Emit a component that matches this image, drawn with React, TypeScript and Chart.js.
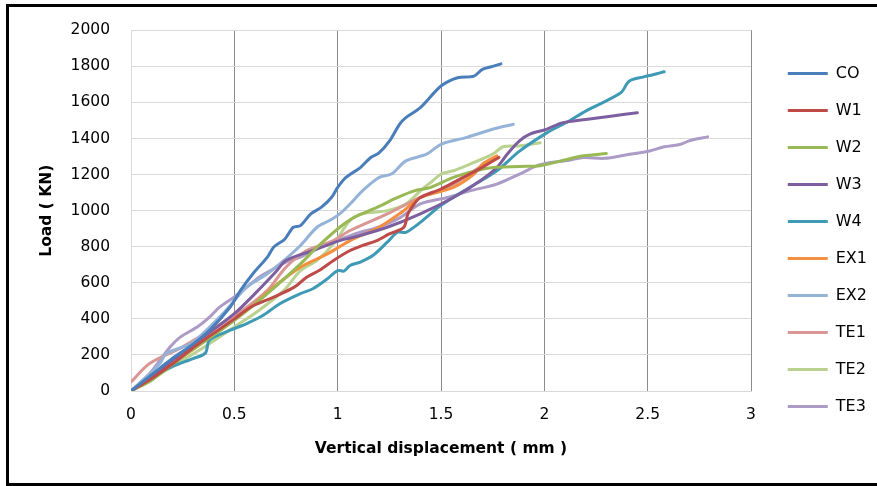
import React, { useEffect, useRef } from "react";
import { Chart, registerables } from "chart.js";

Chart.register(...registerables);

const FONT = "'DejaVu Sans', sans-serif";

const seriesNames = ["CO", "W1", "W2", "W3", "W4", "EX1", "EX2", "TE1", "TE2", "TE3"];

const coX = [0, 0.1, 0.2, 0.3, 0.38, 0.48, 0.53, 0.59, 0.66, 0.69, 0.745, 0.785, 0.82, 0.87, 0.92, 0.97, 1.0, 1.04, 1.11, 1.16, 1.2, 1.25, 1.3, 1.33, 1.4, 1.5, 1.58, 1.66, 1.7, 1.75, 1.79];
const coY = [0, 90, 180, 260, 337, 466, 558, 650, 742, 797, 843, 908, 917, 982, 1018, 1073, 1129, 1184, 1239, 1295, 1320, 1385, 1480, 1516, 1571, 1691, 1737, 1746, 1783, 1800, 1814];

const w1X = [0, 0.1, 0.2, 0.3, 0.4, 0.5, 0.58, 0.69, 0.79, 0.85, 0.91, 0.98, 1.06, 1.12, 1.19, 1.25, 1.32, 1.34, 1.37, 1.4, 1.5, 1.6, 1.7, 1.78];
const w1Y = [0, 70, 150, 240, 320, 400, 466, 521, 576, 631, 668, 724, 779, 807, 834, 871, 908, 982, 1037, 1073, 1120, 1180, 1240, 1295];

const w2X = [0, 0.1, 0.25, 0.5, 0.66, 0.82, 0.9, 1.01, 1.08, 1.19, 1.29, 1.37, 1.45, 1.56, 1.67, 1.75, 1.88, 1.98, 2.08, 2.19, 2.3];
const w2Y = [0, 60, 190, 392, 540, 705, 797, 908, 963, 1018, 1073, 1110, 1129, 1184, 1221, 1239, 1245, 1249, 1276, 1304, 1317];

const w3X = [0, 0.1, 0.2, 0.33, 0.5, 0.6, 0.7, 0.75, 0.88, 1.01, 1.08, 1.24, 1.4, 1.56, 1.69, 1.77, 1.82, 1.88, 1.93, 2.01, 2.09, 2.2, 2.33, 2.45];
const w3Y = [0, 80, 170, 282, 429, 540, 660, 724, 779, 834, 853, 908, 982, 1073, 1166, 1239, 1313, 1387, 1424, 1451, 1488, 1506, 1525, 1543];

const w4X = [0, 0.1, 0.2, 0.3, 0.36, 0.38, 0.48, 0.56, 0.64, 0.72, 0.82, 0.88, 0.95, 1.0, 1.03, 1.06, 1.11, 1.17, 1.24, 1.29, 1.33, 1.4, 1.5, 1.64, 1.77, 1.88, 2.01, 2.12, 2.2, 2.37, 2.41, 2.48, 2.53, 2.58];
const w4Y = [0, 75, 135, 180, 210, 282, 337, 374, 420, 484, 540, 567, 622, 668, 665, 696, 715, 751, 825, 880, 880, 935, 1030, 1129, 1221, 1330, 1430, 1497, 1552, 1654, 1718, 1742, 1755, 1770];

const ex1X = [0, 0.1, 0.25, 0.41, 0.58, 0.69, 0.82, 0.95, 1.06, 1.2, 1.32, 1.4, 1.56, 1.66, 1.7, 1.77];
const ex1Y = [0, 70, 190, 318, 466, 576, 687, 760, 834, 908, 1000, 1073, 1129, 1203, 1258, 1304];

const ex2X = [0, 0.14, 0.17, 0.29, 0.38, 0.46, 0.56, 0.66, 0.74, 0.82, 0.9, 0.96, 1.01, 1.06, 1.12, 1.2, 1.26, 1.33, 1.43, 1.5, 1.62, 1.75, 1.85];
const ex2Y = [0, 153, 208, 263, 355, 448, 576, 650, 724, 807, 908, 945, 982, 1037, 1110, 1184, 1203, 1276, 1313, 1368, 1405, 1451, 1479];

const te1X = [0, 0.09, 0.25, 0.41, 0.54, 0.66, 0.75, 0.85, 0.98, 1.06, 1.24, 1.4, 1.56, 1.66, 1.77];
const te1Y = [50, 153, 245, 355, 448, 558, 687, 779, 834, 890, 982, 1073, 1147, 1221, 1295];

const te2X = [0, 0.17, 0.33, 0.5, 0.62, 0.74, 0.82, 0.9, 0.98, 1.06, 1.12, 1.24, 1.33, 1.4, 1.46, 1.5, 1.56, 1.64, 1.75, 1.8, 1.88, 1.98];
const te2Y = [0, 116, 226, 355, 448, 558, 668, 724, 816, 945, 982, 1000, 1037, 1110, 1166, 1203, 1221, 1258, 1313, 1354, 1359, 1377];

const te3X = [0, 0.05, 0.1, 0.19, 0.24, 0.32, 0.38, 0.43, 0.5, 0.56, 0.62, 0.69, 0.75, 0.82, 0.88, 0.98, 1.08, 1.2, 1.3, 1.4, 1.53, 1.64, 1.77, 1.88, 1.98, 2.12, 2.19, 2.29, 2.4, 2.51, 2.58, 2.66, 2.7, 2.79];
const te3Y = [0, 50, 110, 245, 300, 355, 410, 466, 521, 576, 631, 677, 715, 742, 779, 825, 870, 910, 960, 1037, 1073, 1110, 1147, 1203, 1255, 1280, 1295, 1290, 1310, 1331, 1354, 1368, 1387, 1409];

const xTicks = [0, 0.5, 1, 1.5, 2, 2.5, 3];
const yTicks = [0, 200, 400, 600, 800, 1000, 1200, 1400, 1600, 1800, 2000];

const seriesColors = ["#4a7ebb", "#be4b48", "#98b954", "#7d5fa0", "#3e9ab5", "#f38f3f", "#95b3d7", "#d99694", "#b9d28f", "#ab9bc6"];

const seriesXs = [coX, w1X, w2X, w3X, w4X, ex1X, ex2X, te1X, te2X, te3X];
const seriesYs = [coY, w1Y, w2Y, w3Y, w4Y, ex1Y, ex2Y, te1Y, te2Y, te3Y];

export default function App() {
  const ref = useRef<HTMLCanvasElement>(null);

  useEffect(() => {
    const canvas = ref.current;
    if (!canvas) return;
    const datasets = seriesNames.map((name, i) => ({
      label: name,
      data: seriesXs[i].map((x, j) => ({ x, y: seriesYs[i][j] })),
      borderColor: seriesColors[i],
      backgroundColor: seriesColors[i],
      borderWidth: 3,
      pointRadius: 0,
      pointHoverRadius: 0,
      tension: 0.3,
      fill: false,
      borderCapStyle: "round" as const,
      borderJoinStyle: "round" as const,
      xAxisID: "x",
      yAxisID: "y",
    }));

    const chart = new Chart(canvas, {
      type: "line",
      data: { datasets },
      options: {
        responsive: false,
        animation: false,
        devicePixelRatio: 1,
        layout: { padding: { top: 29, bottom: 35, left: 0, right: 0 } },
        plugins: {
          tooltip: { enabled: false },
          legend: {
            position: "right",
            align: "center",
            labels: {
              boxWidth: 40,
              boxHeight: 3,
              padding: 21,
              color: "#000",
              font: { family: FONT, size: 16 },
              generateLabels: (c: any) =>
                c.data.datasets.map((d: any, i: number) => ({
                  text: d.label,
                  fillStyle: d.borderColor,
                  strokeStyle: d.borderColor,
                  lineWidth: 0,
                  hidden: false,
                  datasetIndex: i,
                  fontColor: "#000",
                })),
            },
          },
        },
        scales: {
          x: {
            type: "linear",
            min: 0,
            max: 3,
            afterBuildTicks: (s: any) => {
              s.ticks = xTicks.map((v) => ({ value: v }));
            },
            ticks: {
              padding: 15,
              color: "#000",
              font: { family: FONT, size: 15.5 },
              callback: (v: any) => String(v),
            },
            grid: {
              color: (ctx: any) => (ctx.tick && ctx.tick.value === 0 ? "#d9d9d9" : "#8c8c8c"),
              lineWidth: 1,
              drawTicks: false,
            },
            border: { color: "#d9d9d9" },
            title: {
              display: true,
              text: "Vertical displacement ( mm )",
              color: "#000",
              font: { family: FONT, size: 15.5, weight: "bold" },
              padding: { top: 0, bottom: -7 },
            },
            afterFit: (s: any) => {
              s.height = 60;
            },
          },
          y: {
            type: "linear",
            min: 0,
            max: 2000,
            afterBuildTicks: (s: any) => {
              s.ticks = yTicks.map((v) => ({ value: v }));
            },
            ticks: {
              padding: 21,
              color: "#000",
              font: { family: FONT, size: 15.5 },
              callback: (v: any) => String(v),
            },
            grid: { color: "#d9d9d9", lineWidth: 1, drawTicks: false },
            border: { color: "#d9d9d9" },
            title: {
              display: true,
              text: "Load ( KN)",
              color: "#000",
              font: { family: FONT, size: 15.5, weight: "bold" },
              padding: { top: 38, bottom: 0 },
            },
            afterFit: (s: any) => {
              s.width = 131;
            },
          },
          y2: {
            type: "linear",
            position: "right",
            display: true,
            grid: { display: false, drawTicks: false },
            ticks: { display: false },
            border: { display: false },
            afterFit: (s: any) => {
              const lw = s.chart.legend ? s.chart.legend.width : 0;
              s.width = Math.max(0, s.chart.width - 751 - lw);
            },
          },
        },
      } as any,
    });
    return () => chart.destroy();
  }, []);

  return (
    <div
      style={{
        position: "fixed",
        left: 0,
        top: 0,
        width: 877,
        height: 486,
        background: "#fff",
        overflow: "hidden",
      }}
    >
      <canvas
        ref={ref}
        width={877}
        height={486}
        style={{ position: "absolute", left: 0, top: 0, width: 877, height: 486 }}
      />
      <div
        style={{
          position: "absolute",
          left: 6,
          top: 4,
          width: 900,
          height: 476,
          border: "3px solid #000",
          pointerEvents: "none",
        }}
      />
    </div>
  );
}
